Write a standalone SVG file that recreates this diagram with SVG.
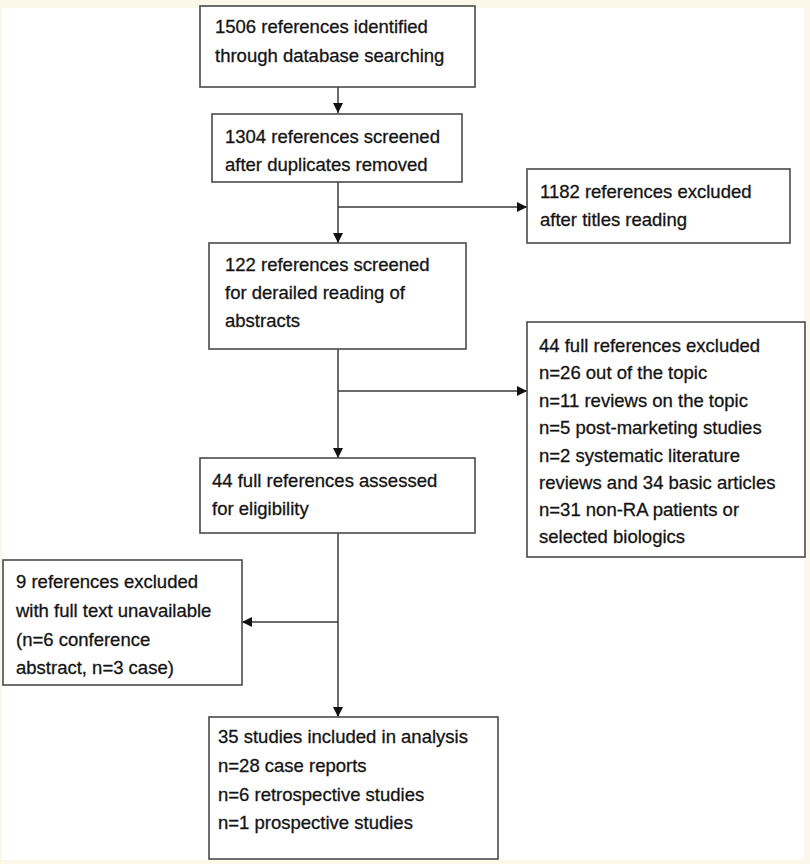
<svg xmlns="http://www.w3.org/2000/svg" width="810" height="864" viewBox="0 0 810 864">
<defs>
<style>
.box{fill:#ffffff;stroke:#4a4a4a;stroke-width:1.6}
.t{font-family:"Liberation Sans",Arial,sans-serif;font-size:18.5px;fill:#141414;stroke:#141414;stroke-width:0.3}
.ln{stroke:#3a3a3a;stroke-width:1.5;fill:none}
</style>
<marker id="ah" viewBox="0 0 10 10" refX="10" refY="5" markerWidth="10" markerHeight="10" markerUnits="userSpaceOnUse" orient="auto">
<path d="M0,0 L10,5 L0,10 Z" fill="#111"/>
</marker>
</defs>
<rect x="0" y="0" width="810" height="864" fill="#fcf8e9"/>
<rect x="2" y="8" width="802" height="852" fill="#ffffff"/>

<g id="connectors">
<line class="ln" x1="338" y1="87" x2="338" y2="113" marker-end="url(#ah)"/>
<line class="ln" x1="338" y1="182" x2="338" y2="243" marker-end="url(#ah)"/>
<line class="ln" x1="338" y1="207" x2="527" y2="207" marker-end="url(#ah)"/>
<line class="ln" x1="338" y1="349" x2="338" y2="458" marker-end="url(#ah)"/>
<line class="ln" x1="338" y1="391" x2="527" y2="391" marker-end="url(#ah)"/>
<line class="ln" x1="338" y1="533" x2="338" y2="717" marker-end="url(#ah)"/>
<line class="ln" x1="338" y1="622" x2="242" y2="622" marker-end="url(#ah)"/>
</g>

<g id="n1">
<rect class="box" x="200" y="6" width="275" height="81"/>
<text class="t" x="215" y="33">1506 references identified</text>
<text class="t" x="215" y="62">through database searching</text>
</g>

<g id="n2">
<rect class="box" x="212" y="114" width="250" height="68"/>
<text class="t" x="225" y="143">1304 references screened</text>
<text class="t" x="225" y="171">after duplicates removed</text>
</g>

<g id="n3">
<rect class="box" x="527" y="169" width="263" height="74"/>
<text class="t" x="540" y="198">1182 references excluded</text>
<text class="t" x="540" y="226">after titles reading</text>
</g>

<g id="n4">
<rect class="box" x="209" y="243" width="257" height="106"/>
<text class="t" x="225" y="271">122 references screened</text>
<text class="t" x="225" y="299">for derailed reading of</text>
<text class="t" x="225" y="327">abstracts</text>
</g>

<g id="n5">
<rect class="box" x="527" y="322" width="278" height="235"/>
<text class="t" x="539" y="352">44 full references excluded</text>
<text class="t" x="539" y="379">n=26 out of the topic</text>
<text class="t" x="539" y="406.5">n=11 reviews on the topic</text>
<text class="t" x="539" y="434">n=5 post-marketing studies</text>
<text class="t" x="539" y="461.5">n=2 systematic literature</text>
<text class="t" x="539" y="488.5">reviews and 34 basic articles</text>
<text class="t" x="539" y="516">n=31 non-RA patients or</text>
<text class="t" x="539" y="543">selected biologics</text>
</g>

<g id="n6">
<rect class="box" x="200" y="458" width="275" height="75"/>
<text class="t" x="212" y="487">44 full references assessed</text>
<text class="t" x="212" y="515">for eligibility</text>
</g>

<g id="n7">
<rect class="box" x="3" y="560" width="239" height="125"/>
<text class="t" x="16" y="588">9 references excluded</text>
<text class="t" x="16" y="617">with full text unavailable</text>
<text class="t" x="16" y="646">(n=6 conference</text>
<text class="t" x="16" y="674">abstract, n=3 case)</text>
</g>

<g id="n8">
<rect class="box" x="209" y="717" width="289" height="142"/>
<text class="t" x="218" y="743">35 studies included in analysis</text>
<text class="t" x="218" y="772">n=28 case reports</text>
<text class="t" x="218" y="801">n=6 retrospective studies</text>
<text class="t" x="218" y="829">n=1 prospective studies</text>
</g>
</svg>
